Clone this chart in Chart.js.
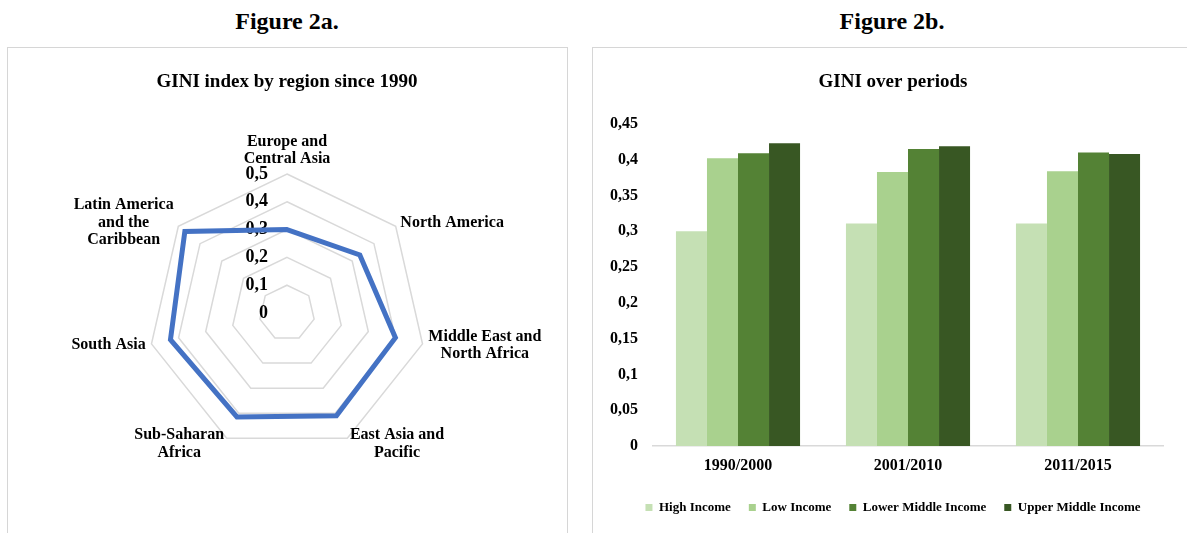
<!DOCTYPE html>
<html>
<head>
<meta charset="utf-8">
<script src="https://cdn.jsdelivr.net/npm/chart.js@4.4.1/dist/chart.umd.min.js"></script>
<style>
  body { margin: 0; width: 1187px; height: 533px; background: #fff; overflow: hidden; position: relative;
         font-family: 'Liberation Serif', 'Times New Roman', serif; }
  .fig { position: absolute; top: 7px; width: 300px; text-align: center; font-weight: bold; font-size: 24px; line-height: 28px; }
  .panel { position: absolute; border: 1px solid #d6d6d6; }
  canvas { position: absolute; }
</style>
</head>
<body>
<div class="fig" style="left:137px">Figure 2a.</div>
<div class="fig" style="left:742px">Figure 2b.</div>
<div class="panel" style="left:7px; top:47px; width:559px; height:520px"></div>
<div class="panel" style="left:592px; top:47px; width:640px; height:520px"></div>
<canvas id="radarChart" width="559" height="485" style="left:8px; top:48px"></canvas>
<canvas id="barChart" width="620" height="484" style="left:594px; top:49px"></canvas>
<script>
// Figure 2a - GINI index by region since 1990
const regions = [
  ['Europe and', 'Central Asia'],
  ['North America'],
  ['Middle East and', 'North Africa'],
  ['East Asia and', 'Pacific'],
  ['Sub-Saharan', 'Africa'],
  ['South Asia'],
  ['Latin America', 'and the', 'Caribbean']
];
const giniByRegion = [0.30, 0.335, 0.40, 0.41, 0.415, 0.43, 0.47];
const radarTicks = [0, 0.1, 0.2, 0.3, 0.4, 0.5];

// Figure 2b - GINI over periods
const periods = ['1990/2000', '2001/2010', '2011/2015'];
const highIncome = [0.300, 0.311, 0.311];
const lowIncome = [0.402, 0.383, 0.384];
const lowerMiddleIncome = [0.409, 0.415, 0.410];
const upperMiddleIncome = [0.423, 0.419, 0.408];

const FONT = "'Liberation Serif', 'Times New Roman', serif";
const fmt = v => String(+v.toFixed(2)).replace('.', ',');

// tick labels left of the top spoke, region labels round the outer ring
const radarLabels = {
  id: 'radarLabels',
  beforeDatasetsDraw(chart) {
    const scale = chart.scales.r;
    const ctx = chart.ctx;
    ctx.save();
    ctx.fillStyle = '#000';
    ctx.textBaseline = 'middle';
    ctx.font = 'bold 18px ' + FONT;
    ctx.textAlign = 'right';
    radarTicks.forEach(v => {
      const d = scale.getDistanceFromCenterForValue(v);
      ctx.fillText(fmt(v), scale.xCenter - 19, scale.yCenter - d);
    });
    ctx.font = 'bold 16px ' + FONT;
    ctx.textAlign = 'center';
    const lh = 17.5;
    regions.forEach((lines, i) => {
      const p = scale.getPointPosition(i, scale.drawingArea + 6);
      const w = Math.max(...lines.map(l => ctx.measureText(l).width));
      const h = lines.length * lh;
      const dx = p.x - scale.xCenter;
      let cx = p.x;
      if (dx > 1) cx = p.x + w / 2;
      else if (dx < -1) cx = p.x - w / 2;
      const top = i === 0 ? p.y - h : p.y - h / 2;
      lines.forEach((l, k) => ctx.fillText(l, cx, top + lh * (k + 0.5)));
    });
    ctx.restore();
  }
};

new Chart(document.getElementById('radarChart'), {
  type: 'radar',
  data: {
    labels: regions,
    datasets: [{
      label: 'GINI',
      data: giniByRegion,
      borderColor: '#4472c4',
      borderWidth: 5,
      pointRadius: 0,
      fill: false
    }]
  },
  options: {
    responsive: false,
    animation: false,
    layout: { padding: { left: 139.5, right: 140.5, top: 0, bottom: 80 } },
    scales: {
      r: {
        min: 0,
        max: 0.5,
        ticks: { display: false, stepSize: 0.1 },
        grid: { color: '#d9d9d9', lineWidth: 1.5 },
        angleLines: { display: false },
        pointLabels: { display: false }
      }
    },
    plugins: {
      legend: { display: false },
      tooltip: { enabled: false },
      title: {
        display: true,
        text: 'GINI index by region since 1990',
        color: '#000',
        font: { family: FONT, size: 19, weight: 'bold' },
        padding: { top: 22.6, bottom: 80.6 }
      }
    }
  },
  plugins: [radarLabels]
});

new Chart(document.getElementById('barChart'), {
  type: 'bar',
  data: {
    labels: periods,
    datasets: [
      { label: 'High Income', data: highIncome, backgroundColor: '#c5e0b4' },
      { label: 'Low Income', data: lowIncome, backgroundColor: '#a9d18e' },
      { label: 'Lower Middle Income', data: lowerMiddleIncome, backgroundColor: '#548235' },
      { label: 'Upper Middle Income', data: upperMiddleIncome, backgroundColor: '#385723' }
    ]
  },
  options: {
    responsive: false,
    animation: false,
    categoryPercentage: 0.73,
    barPercentage: 1.0,
    layout: { padding: { left: 0, right: 22, top: 0, bottom: 9 } },
    scales: {
      x: {
        grid: { display: false, drawTicks: false },
        border: { color: '#d9d9d9', width: 1.5 },
        ticks: { color: '#000', padding: 10, font: { family: FONT, size: 16, weight: 'bold' } },
        afterFit: s => { s.height = 37; }
      },
      y: {
        min: 0,
        max: 0.45,
        grid: { display: false, drawTicks: false },
        border: { display: false },
        ticks: {
          stepSize: 0.05,
          padding: 15,
          color: '#000',
          font: { family: FONT, size: 16, weight: 'bold' },
          callback: v => fmt(v)
        },
        afterFit: s => { s.width = 59; }
      },
      // empty right-hand gutter, as in the original plot area
      gutter: {
        position: 'right',
        grid: { display: false, drawTicks: false },
        border: { display: false },
        ticks: { display: false },
        afterFit: s => { s.width = 29; }
      }
    },
    plugins: {
      tooltip: { enabled: false },
      title: {
        display: true,
        text: 'GINI over periods',
        color: '#000',
        font: { family: FONT, size: 19, weight: 'bold' },
        padding: { top: 21.6, bottom: 30.6 }
      },
      legend: {
        position: 'bottom',
        labels: {
          boxWidth: 7,
          boxHeight: 7,
          padding: 18,
          color: '#000',
          font: { family: FONT, size: 13, weight: 'bold' }
        }
      }
    }
  }
});
</script>
</body>
</html>
